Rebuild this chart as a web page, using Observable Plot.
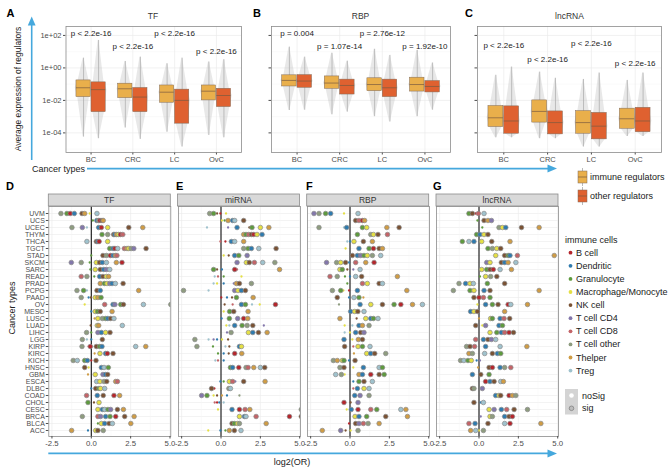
<!DOCTYPE html>
<html><head><meta charset="utf-8">
<script src="https://cdn.jsdelivr.net/npm/d3@7"></script>
<script src="https://cdn.jsdelivr.net/npm/@observablehq/plot@0.6"></script>
<style>
html,body{margin:0;padding:0;background:#fff;}
#chart{position:relative;width:669px;height:471px;overflow:hidden;font-family:"Liberation Sans",Arial,sans-serif;background:#fff;}
#chart > svg{position:absolute;}
</style></head><body><div id="chart"></div>
<script>
// ---------------- DATA: top panels (A-C) ----------------
const cancersTop = ["BC", "CRC", "LC", "OvC"];
const regGroups = ["immune regulators", "other regulators"];
const regColors = ["#E9AF4B", "#DF6130"];
const yTickValues = [1e2, 1, 1e-2, 1e-4];
const yTickLabels = ["1e+02", "1e+00", "1e-02", "1e-04"];
const yGridMinor = [10, 0.1, 1e-3, 1e-5];
// each row: [lower whisker, Q1, median, Q3, upper whisker]
const tfImmune = [[5.5e-5, 0.016, 0.060, 0.17, 4.0], [2.0e-4, 0.0138, 0.052, 0.107, 2.5], [1.1e-4, 0.0072, 0.032, 0.083, 1.8], [7e-5, 0.010, 0.037, 0.083, 2.3]];
const tfOther = [[4.4e-5, 0.0019, 0.046, 0.129, 49], [4e-5, 0.0019, 0.016, 0.058, 4.6], [1.35e-5, 3.7e-4, 0.010, 0.046, 4.0], [5e-5, 0.0039, 0.020, 0.052, 3.2]];
const rbpImmune = [[0.0024, 0.072, 0.17, 0.35, 19], [0.0013, 0.052, 0.117, 0.30, 8], [0.001, 0.037, 0.095, 0.23, 14], [0.001, 0.035, 0.095, 0.25, 12]];
const rbpOther = [[0.0025, 0.060, 0.155, 0.36, 4.6], [0.0019, 0.023, 0.083, 0.19, 2.6], [4.7e-4, 0.016, 0.060, 0.19, 5.9], [0.0025, 0.031, 0.072, 0.155, 2.0]];
const lncImmune = [[5.0e-5, 2.3e-4, 8.5e-4, 0.0045, 0.35], [4.4e-5, 4.3e-4, 0.0021, 0.010, 0.55], [1.35e-5, 8.9e-5, 4.3e-4, 0.0022, 0.195], [6.0e-5, 1.8e-4, 7.4e-4, 0.0031, 0.17]];
const lncOther = [[5.0e-5, 8.9e-5, 5.4e-4, 0.0043, 1.12], [4.4e-5, 8.1e-5, 4.3e-4, 0.0021, 0.23], [1.35e-5, 4.0e-5, 2.6e-4, 0.0017, 0.48], [6.0e-5, 1.1e-4, 5.4e-4, 0.0035, 0.48]];
const pTF = ["p < 2.2e-16", "p < 2.2e-16", "p < 2.2e-16", "p < 2.2e-16"];
const pTFy = [130, 22, 130, 10];
const pRBP = ["p = 0.004", "p = 1.07e-14", "p = 2.76e-12", "p = 1.92e-10"];
const pRBPy = [126, 22, 126, 22];
const pLnc = ["p < 2.2e-16", "p < 2.2e-16", "p < 2.2e-16", "p < 2.2e-16"];
const pLncY = [24, 3.2, 31, 1.8];

// ---------------- DATA: bottom panels (D-G) ----------------
const cancersBottom = ["UVM","UCS","UCEC","THYM","THCA","TGCT","STAD","SKCM","SARC","READ","PRAD","PCPG","PAAD","OV","MESO","LUSC","LUAD","LIHC","LGG","KIRP","KIRC","KICH","HNSC","GBM","ESCA","DLBC","COAD","CHOL","CESC","BRCA","BLCA","ACC"];
const cellNames = ["B cell","Dendritic","Granulocyte","Macrophage/Monocyte","NK cell","T cell CD4","T cell CD8","T cell other","Thelper","Treg"];
const cellColors = ["#B5262C","#2F7BAE","#5E9A3E","#E4DF45","#7A5234","#8377AB","#C36468","#8E9C7F","#CF9C45","#9FC2CD"];
const cellCodes = {B:"B cell", D:"Dendritic", G:"Granulocyte", M:"Macrophage/Monocyte", N:"NK cell", "4":"T cell CD4", "8":"T cell CD8", O:"T cell other", H:"Thelper", R:"Treg"};
const xTicksBottom = [-2.5, 0, 2.5, 5];
const xMinorBottom = [-1.25, 1.25, 3.75];
// token: cell code + log2(OR); trailing "n" = noSig
const orTF = [
 "O-1.93 G-1.55 B-1.34 D-1.08 N-0.59 H-0.42 M-0.1n R0.36",
 "G0.1n D0.35 O0.45 B0.55 N0.68 H0.76",
 "O-1.23 4-0.57 R-0.28n G0.4n D0.47 B0.64 M1.04 N2.38 H3.27",
 "G0.68 O1.04 N1.42 D1.5 H1.6 M1.72 B1.85 82.0",
 "R-0.28 N0.32 D0.42 B0.5 M1.04",
 "G1.17 D1.38 B1.5 R1.68 82.1 H2.27 M2.38 O2.53 42.7 N3.48",
 "G0.0n N0.74 O0.96 B1.21 D1.38 H1.53 81.63",
 "4-1.27 O-0.64 G-0.1n M0.32 N0.53 D0.7 R0.96 H1.59 B1.95",
 "G-0.06n M0.25 N0.57 D0.79 40.96 R1.17",
 "8-0.64 O-0.28 G0.19n D0.53 N0.74 M0.96 H1.1",
 "H0.57 G0.83 M1.0 41.17 D1.32 R1.53 N2.02",
 "O-0.91 G-0.49 R-0.28n N0.36 D0.57 H3.01",
 "O-0.64 D-0.17n N-0.02n M0.25 H0.42 G0.62",
 "M-0.42n 80.85 D1.38 41.5 G1.87 N2.04 R3.31 O5.05",
 "D0.0n M0.25 G0.4 N0.57 H1.32",
 "H0.21n M0.42 O0.7 G0.91 D1.05 N1.23 R1.44",
 "N-0.04n M0.38 H0.47 R1.97",
 "O-0.3 G0.0n 40.42 D0.64 M0.91 N1.19",
 "O-0.57 R-0.28n D0.0n N0.7",
 "O-0.59 8-0.17n B-0.06 N0.32 G0.53 D0.68 R2.82 H3.46",
 "H0.21n M0.55 D0.91 B1.02 N1.38",
 "O-1.15 R-0.89 G-0.42 D-0.25 B0.0n N0.3",
 "N-0.42 M-0.17n D0.64 R0.81 G1.08",
 "H-0.21n M0.25 40.74 D0.9 N1.04",
 "R0.34 M0.55 O0.81 N0.98 H1.55 81.66",
 "D0.0n N0.28 G0.49 M0.59 R0.85",
 "8-0.3 D0.38 N0.76 B1.44 H1.8",
 "G-0.21 N0.17n M0.49",
 "M0.42 D0.7 R0.85 G1.06 41.23 N1.66 H2.04",
 "O-0.57 80.42 40.59 D0.91 G1.19 B1.55 N2.12 H2.72",
 "G0.42n M0.64 D0.85 N1.13 R1.34 H2.51",
 "H-1.25 D-0.21n M0.28 N0.42 O0.76"
];
const orMiRNA = [
 "O-0.72 G-0.47 N-0.25n B-0.04n M0.32n",
 "M0.06n G0.23n H0.45 D0.74 R0.87 N1.44",
 "R-0.89n 40.45n D1.02 N1.8n G1.97 M2.5 H3.04",
 "H1.44 G1.59 81.76 N1.93 B2.08 M2.29 D2.61",
 "8-0.04n B0.28n D0.66 R0.87 H1.44",
 "O1.44 G1.72 D1.93 R2.4 N3.5",
 "M0.17n N0.49n D0.87 G1.13 41.66",
 "41.02 M1.61 N1.8 82.12 R2.65 O3.42",
 "G-0.47 N-0.25n D0.06n B0.87 81.02n H3.72",
 "R-0.4n 8-0.19n G0.17n M1.3n",
 "R-0.47n M-0.25n D0.17n 40.81n H0.98 N1.17 O1.93",
 "O-2.38 R-0.79n 40.87 M1.08 D1.3 N1.55",
 "B0.02n D0.38n N0.7n G0.98 H2.04",
 "N0.23n 80.74n D1.3 G1.55 R1.97n M2.46n B3.46",
 "M0.17n G0.55 N0.81 H1.72",
 "D0.04n G0.53 41.06 B1.44 H1.7",
 "M0.34n R0.53n D0.87 G1.34 O1.66 N2.02 42.72n",
 "40.38n O0.64 M1.74 D2.02 N2.38 H2.93",
 "O-1.66 R-0.79n 4-0.47n D-0.25n M0.06n N0.45n",
 "O-1.53 G-0.51n R0.28n N0.53n D1.17 M1.3",
 "G-0.19n D0.17n N0.49n B0.87 H1.32",
 "R-0.36n 8-0.19n D0.17n",
 "G0.6 D0.74 B1.13 O1.59 81.72 H2.08 R2.5 N2.78",
 "",
 "D-0.04n G0.17n M0.53 80.74 40.91n N1.44 H2.8",
 "N-0.6 B-0.42n O0.5 R0.6",
 "4-1.23 G-0.89 M-0.47n N-0.25n H0.06n D0.38n O1.17n",
 "8-0.4n B-0.25n D-0.11n R0.17n",
 "M-0.19n D0.7 B1.17 81.53 H1.83 O5.1",
 "M1.17 D1.49 R1.59 82.23 B4.35 N5.1",
 "N0.7 G0.85 M1.06 O1.17 H2.87",
 "M-0.81n D-0.04n G0.28n H0.53 N0.85 R1.27"
];
const orRBP = [
 "4-2.29 O-1.97 G-1.55 D-1.23 M-0.38n R0.51",
 "N0.36 80.57 B0.79 H0.93",
 "O-1.97 R-0.38n D-0.21 G0.79 M1.06 H2.34 N3.12",
 "G0.47 O1.32 M1.49 N1.78 82.38",
 "R-0.17n D0.0n M0.25 N0.85 H1.42",
 "M-0.28n D0.57 G1.21 B1.49 N1.85 H2.06",
 "N0.15 D0.47 40.68 G0.89 M1.1 O1.42 R1.95",
 "4-1.49 O-0.85 M-0.59 N-0.28 D-0.06n 80.36 H1.0 B1.53",
 "M-0.64 G-0.49 N-0.17n 40.21n R0.64",
 "8-1.27 O-0.81 G-0.32n D0.0n R0.36 N0.74 H3.01",
 "G-0.17n 80.79 M1.1 N1.85 R2.06",
 "O-1.12 G-0.59 M-0.42n B-0.06n D0.47 H3.61",
 "N-0.81 D-0.06n R0.25 G0.57 H0.85n",
 "O-0.7n D0.64 M1.32 N2.06 G2.8 B3.23 H3.97 R4.6",
 "D0.04 M0.3 N0.5 R0.89",
 "H-0.64 N0.42n M1.0 D1.32 G1.49 R1.78",
 "M-0.34n R0.15n D0.57 H0.79 O1.21",
 "R-0.34n M0.0n D0.36 N0.68 40.89",
 "D-0.38 M0.15n H0.53 N0.79",
 "N-0.34 80.21n M0.51 G0.79 R1.27",
 "H0.25n M1.06 D1.32 N1.57 O2.27",
 "O-1.06 H-0.81 M-0.49 G-0.38 D-0.06n N0.32",
 "O-0.64 N-0.38 M0.21n D0.85 R1.85 G2.06",
 "R-0.91 O-0.55 M-0.34n H0.57 D0.79 B1.32 N1.85 G2.17",
 "D0.21n G0.57 N0.89 R1.42",
 "80.21n D0.47 M0.89 R1.21",
 "D0.3 40.64 O1.21",
 "B-0.38 N0.04n 40.51",
 "M-0.21n D0.08 B0.51 81.32 G1.7 R3.23 H3.55",
 "M0.32 D0.57 G1.06 N2.27 H3.65",
 "B-0.06n N0.36 40.57 80.85 O1.15 H1.85",
 "H-1.76 4-0.59 N-0.28n M0.04n O0.51"
];
const orLnc = [
 "G-0.64 N-0.42 B-0.21n 8-0.04 R0.32",
 "G-0.1n N0.32 H0.57 40.79",
 "G0.21n O1.27 M1.49 D1.7 N2.7 H3.82",
 "G-0.15 D0.06 M0.32 N0.57",
 "G-1.06 R-0.64 D-0.32 M0.17 N0.81 H1.97",
 "G0.57 O0.85 M1.13 N1.38",
 "M1.06 N1.63 G1.85 D1.97 82.44 H4.78",
 "40.49 M0.7 N1.42 D1.63 H1.85 R2.34",
 "M0.17 G0.49 N0.7 B0.91 R1.34 H2.06",
 "G0.06n M0.42 O0.74 N1.13",
 "O-1.27 D-0.85 M-0.57 R-0.36 G0.53 N1.63",
 "O-1.63 G-0.57 M-0.32 D0.32 N0.7 H3.82",
 "N-0.32 B0.0 80.28 G0.7",
 "M-0.1n D0.42 G0.85 N1.21 B1.85 R2.02 H3.08",
 "D-0.53 M-0.32 N-0.1 H1.63",
 "H0.0n M0.74 G0.85 D1.34 81.59 N1.95",
 "N-0.21 M0.21n 40.42 D1.27 G1.49",
 "M0.7 G1.13 D1.42 81.63 B1.91 N2.19",
 "8-0.21 D0.28 N0.57 40.79 R1.06",
 "O-0.79 N-0.57 8-0.28 D0.42 R1.34 H3.04",
 "H-0.64 O-0.42 R0.36 N0.85 D1.17 G1.38",
 "O-1.17 R-0.96 G-0.7 M-0.49 D-0.15n 40.06n",
 "H-0.06n N0.64 B0.85 D1.34 O1.63 82.02",
 "D-0.42 N0.11 G0.64",
 "B0.42 D0.7 N0.96 R1.38 H1.55",
 "N-0.42 O-0.32 40.21",
 "D1.06 M1.27 N1.38 B1.91 H2.12 O2.34",
 "N-0.32 D0.11n R0.28",
 "M0.64 40.96 D1.42 81.76 N2.23 O3.08",
 "40.11n M0.7 O0.85 D1.63 N1.91 B2.12",
 "8-0.64 D-0.25 N0.57 R1.63 B1.97 H3.93",
 "H-0.53 R-0.21 M0.0n O0.28"
];

// ---------------- RENDER ----------------
const FONT = '"Liberation Sans", Arial, sans-serif';
const chart = document.getElementById("chart");
const AX = "#4d4d4d", BORDER = "#8c8c8c", GRID = "#ebebeb", GRID2 = "#f4f4f4";

function place(svg, left, top) {
  svg.style.left = left + "px"; svg.style.top = top + "px";
  chart.appendChild(svg);
}

function boxPanel(immune, other, pText, pY, left, width, ml, mr, showLabels) {
  const boxes = [];
  [immune, other].forEach((arr, g) => arr.forEach((s, i) => boxes.push({
    cancer: cancersTop[i], group: regGroups[g], pos: i + 1 + (g ? 0.18 : -0.18),
    lo: s[0], q1: s[1], med: s[2], q3: s[3], hi: s[4]})));
  const widths = [0.01, 0.14, 0.2, 0.13, 0.01];
  const cloud = boxes.flatMap(b => [b.lo, b.q1, b.med, b.q3, b.hi].map((y, k) => ({key: b.group + b.cancer, y, x1: b.pos - widths[k], x2: b.pos + widths[k]})));
  const labels = pText.map((t, i) => ({x: i + 1, y: pY[i], t}));
  const svg = Plot.plot({
    width, height: 172, marginLeft: ml, marginRight: mr, marginTop: 26, marginBottom: 20,
    style: {fontFamily: FONT, fontSize: "7.5px", color: AX, background: "transparent", overflow: "visible"},
    x: {domain: [0.4, 4.6], ticks: [1, 2, 3, 4], tickFormat: d => cancersTop[d - 1], tickSize: 2.5, tickPadding: 2, label: null},
    y: {type: "log", domain: [6.2e-6, 355], ticks: yTickValues, tickFormat: d => showLabels ? yTickLabels[yTickValues.indexOf(d)] : "", tickSize: 2.5, tickPadding: 2, label: null},
    color: {domain: regGroups, range: regColors},
    marks: [
      Plot.ruleY(yGridMinor, {stroke: GRID2, strokeWidth: 0.5}),
      Plot.ruleY(yTickValues, {stroke: GRID, strokeWidth: 0.7}),
      Plot.ruleX([1, 2, 3, 4], {stroke: GRID, strokeWidth: 0.7}),
      Plot.areaX(cloud, {y: "y", x1: "x1", x2: "x2", z: "key", fill: "#b4b4b4", fillOpacity: 0.3}),
      Plot.ruleX(boxes, {x: "pos", y1: "lo", y2: "hi", stroke: "#b0b0b0", strokeWidth: 0.8}),
      Plot.rect(boxes, {x1: d => d.pos - 0.17, x2: d => d.pos + 0.17, y1: "q1", y2: "q3", fill: "group", stroke: "#806a58", strokeWidth: 0.5}),
      Plot.ruleY(boxes, {y: "med", x1: d => d.pos - 0.17, x2: d => d.pos + 0.17, stroke: "#7a5a40", strokeWidth: 0.7}),
      Plot.text(labels, {x: "x", y: "y", text: "t", fontSize: 8, fill: "#1a1a1a"}),
      Plot.frame({stroke: BORDER, strokeWidth: 0.8})
    ]
  });
  place(svg, left, 0);
}

boxPanel(tfImmune, tfOther, pTF, pTFy, 0, 245, 65.5, 4, true);
boxPanel(rbpImmune, rbpOther, pRBP, pRBPy, 255, 200, 16, 5, false);
boxPanel(lncImmune, lncOther, pLnc, pLncY, 461, 206, 16, 6, false);

const bottomFrames = [48.3, 177.5, 306.7, 436];
const panelW = 122;
function dotPanel(rows, k) {
  const data = rows.flatMap((s, i) => s.trim() === "" ? [] : s.trim().split(/\s+/).map(t => ({
    cancer: cancersBottom[i], cell: cellCodes[t[0]], value: parseFloat(t.slice(1)), sig: !t.endsWith("n")})));
  const showY = k === 0;
  const ml = showY ? bottomFrames[0] : 5;
  const left = bottomFrames[k] - ml;
  const marks = [
    Plot.ruleY(cancersBottom, {stroke: GRID, strokeWidth: 0.6}),
    Plot.ruleX(xMinorBottom, {stroke: GRID2, strokeWidth: 0.5}),
    Plot.ruleX(xTicksBottom, {stroke: GRID, strokeWidth: 0.7}),
    Plot.ruleX([0], {stroke: "#111", strokeWidth: 1.1}),
    Plot.dot(data.filter(d => !d.sig), {x: "value", y: "cancer", fill: "cell", r: 1.15, clip: true}),
    Plot.dot(data.filter(d => d.sig), {x: "value", y: "cancer", fill: "cell", r: 2.3, stroke: "#8a8a8a", strokeWidth: 0.7, clip: true}),
    Plot.frame({stroke: BORDER, strokeWidth: 0.8}),
    Plot.axisX({ticks: xTicksBottom, tickFormat: d => d.toFixed(1), tickSize: 2.5, tickPadding: 1.5, fontSize: 7.8, label: null})
  ];
  if (showY) marks.push(Plot.axisY({tickSize: 2.5, tickPadding: 1.5, fontSize: 7, label: null}));
  const svg = Plot.plot({
    width: ml + panelW + 3, height: 252, marginLeft: ml, marginRight: 3, marginTop: 6, marginBottom: 16,
    style: {fontFamily: FONT, fontSize: "7.8px", color: AX, background: "transparent", overflow: "visible"},
    x: {domain: [-2.7, 5.05], label: null},
    y: {type: "point", domain: cancersBottom, padding: 0.6, label: null, axis: null},
    color: {domain: cellNames, range: cellColors},
    marks
  });
  place(svg, left, 200);
}
[orTF, orMiRNA, orRBP, orLnc].forEach((rows, k) => dotPanel(rows, k));

// ---------------- OVERLAY: titles, strips, arrows, legends ----------------
const ov = d3.create("svg").attr("width", 669).attr("height", 471)
  .style("left", "0px").style("top", "0px").style("pointer-events", "none")
  .style("font-family", FONT);
const txt = (x, y, s, size, opts = {}) => ov.append("text").attr("x", x).attr("y", y).text(s)
  .attr("font-size", size).attr("fill", opts.fill || "#1a1a1a").attr("font-weight", opts.bold ? "bold" : null)
  .attr("text-anchor", opts.anchor || "start").attr("dominant-baseline", "central")
  .attr("transform", opts.rot ? `rotate(-90 ${x} ${y})` : null);

// panel letters
[["A", 6.5, 13], ["B", 253, 13], ["C", 465, 13], ["D", 6, 186], ["E", 176, 186], ["F", 306, 186], ["G", 433, 186]]
  .forEach(([s, x, y]) => txt(x, y, s, 11, {bold: true, fill: "#000"}));
// top panel titles
[["TF", 153], ["RBP", 360.5], ["lncRNA", 569.5]].forEach(([s, x]) => txt(x, 16, s, 8.5, {anchor: "middle", fill: "#333"}));
// axis titles
txt(17.5, 89, "Average expression of regulators", 8.5, {anchor: "middle", rot: true, fill: "#222"});
txt(32, 168.5, "Cancer types", 9, {fill: "#222"});
txt(11.5, 308, "Cancer types", 9, {anchor: "middle", rot: true, fill: "#222"});
txt(292, 462, "log2(OR)", 9, {anchor: "middle", fill: "#222"});

// arrows
const ARROW = "#45A8DD";
ov.append("line").attr("x1", 31.7).attr("y1", 160).attr("x2", 31.7).attr("y2", 24).attr("stroke", ARROW).attr("stroke-width", 1.6);
ov.append("path").attr("d", "M31.7,16.5 L27.8,25.5 L35.6,25.5 Z").attr("fill", ARROW);
ov.append("line").attr("x1", 87).attr("y1", 168.6).attr("x2", 550).attr("y2", 168.6).attr("stroke", ARROW).attr("stroke-width", 1.6);
ov.append("path").attr("d", "M557,168.6 L547.5,164.6 L547.5,172.6 Z").attr("fill", ARROW);
ov.append("line").attr("x1", 48.3).attr("y1", 453.4).attr("x2", 550).attr("y2", 453.4).attr("stroke", ARROW).attr("stroke-width", 1.6);
ov.append("path").attr("d", "M557,453.4 L547.5,449.4 L547.5,457.4 Z").attr("fill", ARROW);

// strips
const stripTitles = ["TF", "miRNA", "RBP", "lncRNA"];
bottomFrames.forEach((x, k) => {
  ov.append("rect").attr("x", x).attr("y", 194).attr("width", panelW).attr("height", 12)
    .attr("fill", "#d9d9d9").attr("stroke", BORDER).attr("stroke-width", 0.8);
  txt(x + panelW / 2, 200.3, stripTitles[k], 8.5, {anchor: "middle", fill: "#333"});
});

// fill legend
regGroups.forEach((g, i) => {
  const cy = 177 + i * 19;
  ov.append("line").attr("x1", 582.5).attr("x2", 582.5).attr("y1", cy - 9).attr("y2", cy + 9).attr("stroke", "#a8a8a8").attr("stroke-width", 0.8);
  ov.append("rect").attr("x", 578).attr("y", cy - 6).attr("width", 9).attr("height", 12).attr("fill", regColors[i]).attr("stroke", "#806a58").attr("stroke-width", 0.5);
  ov.append("line").attr("x1", 578).attr("x2", 587).attr("y1", cy).attr("y2", cy).attr("stroke", "#7a5a40").attr("stroke-width", 0.7);
  txt(590, cy, g, 9, {fill: "#1a1a1a"});
});
// immune cells legend
txt(565, 240, "immune cells", 9, {fill: "#1a1a1a"});
cellNames.forEach((c, i) => {
  const cy = 252.7 + i * 13.1;
  ov.append("circle").attr("cx", 570.5).attr("cy", cy).attr("r", 1.9).attr("fill", cellColors[i]);
  txt(576, cy, c, 9, {fill: "#1a1a1a"});
});
// significance legend
ov.append("rect").attr("x", 565).attr("y", 389).attr("width", 13).attr("height", 25.5).attr("fill", "#d4d4d4");
ov.append("circle").attr("cx", 571.5).attr("cy", 395.5).attr("r", 2.3).attr("fill", "#fff");
ov.append("circle").attr("cx", 571.5).attr("cy", 408.3).attr("r", 2.3).attr("fill", "#bdbdbd").attr("stroke", "#7a7a7a").attr("stroke-width", 0.7);
txt(582, 395.5, "noSig", 9, {fill: "#1a1a1a"});
txt(582, 408.3, "sig", 9, {fill: "#1a1a1a"});

chart.appendChild(ov.node());
</script></body></html>
